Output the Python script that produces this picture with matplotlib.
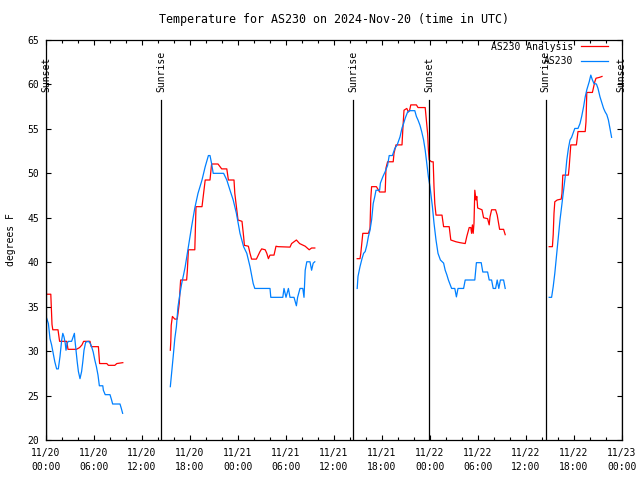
import numpy as np
import matplotlib
matplotlib.use("Agg")
import matplotlib.pyplot as plt

# hours since 2024-11-20 00:00 UTC, degrees F
analysis_day1 = [(0.08, 36.4), (0.6, 36.4), (0.75, 33.0), (0.85, 32.4), (1.5, 32.4), (1.7, 31.1),
                 (2.6, 31.1), (2.75, 30.2), (3.8, 30.2), (4.2, 30.4), (4.5, 30.7), (4.7, 31.1),
                 (5.5, 31.1), (5.65, 30.5), (6.55, 30.5), (6.7, 28.6), (7.6, 28.6), (7.8, 28.4),
                 (8.6, 28.4), (8.85, 28.6), (9.6, 28.7)]
analysis_day2 = [(15.54, 30.1), (15.6, 31.05), (15.65, 32.9), (15.8, 33.9), (16.1, 33.6), (16.4, 33.6),
                 (16.5, 34.25), (16.66, 35.4), (16.75, 36.9), (16.83, 38.0), (17.58, 38.0), (17.67, 39.1),
                 (17.8, 41.4), (18.6, 41.4), (18.75, 46.25), (19.5, 46.25), (19.7, 47.75), (19.9, 49.25),
                 (20.5, 49.25), (20.7, 51.05), (21.5, 51.05), (21.75, 50.75), (21.96, 50.5), (22.6, 50.5),
                 (22.8, 49.25), (23.5, 49.25), (23.6, 47.75), (23.8, 46.25), (24.0, 44.75), (24.5, 44.6),
                 (24.7, 42.9), (24.8, 41.9), (25.3, 41.8), (25.5, 41.0), (25.7, 40.35), (26.3, 40.35),
                 (26.75, 41.2), (26.96, 41.5), (27.4, 41.4), (27.6, 41.0), (27.8, 40.4), (28.0, 40.8),
                 (28.5, 40.8), (28.75, 41.8), (29.0, 41.75), (30.5, 41.7), (30.7, 42.1), (31.3, 42.5),
                 (31.7, 42.1), (32.4, 41.8), (32.9, 41.4), (33.2, 41.6), (33.6, 41.6)]
analysis_day3 = [(38.9, 40.4), (39.25, 40.4), (39.35, 41.0), (39.6, 43.25), (40.3, 43.25), (40.5, 43.8),
                 (40.6, 47.2), (40.7, 48.5), (41.3, 48.5), (41.7, 47.9), (42.4, 47.9), (42.5, 50.6),
                 (42.7, 51.3), (43.4, 51.3), (43.5, 52.25), (43.75, 53.2), (44.5, 53.2), (44.6, 54.9),
                 (44.75, 57.1), (45.1, 57.3), (45.3, 56.9), (45.45, 57.1), (45.6, 57.7), (46.3, 57.7),
                 (46.5, 57.4), (47.4, 57.4), (47.5, 56.4), (47.7, 54.5), (47.8, 52.6), (47.9, 51.5),
                 (48.2, 51.3), (48.4, 51.3), (48.5, 48.5), (48.6, 46.6), (48.75, 45.3), (49.5, 45.3),
                 (49.7, 44.0), (50.4, 44.0), (50.6, 42.5), (51.25, 42.3), (51.75, 42.2), (52.4, 42.1),
                 (52.6, 42.9), (52.9, 43.9), (53.1, 43.9), (53.2, 43.25), (53.3, 44.2), (53.4, 43.25),
                 (53.5, 44.4), (53.6, 48.1), (53.75, 47.0), (53.85, 47.4), (53.96, 46.1), (54.5, 45.9),
                 (54.7, 45.0), (55.2, 44.9), (55.4, 44.2), (55.5, 45.1), (55.7, 45.9), (56.2, 45.9),
                 (56.4, 45.3), (56.7, 43.7), (57.2, 43.7), (57.4, 43.1)]
analysis_day4 = [(62.9, 41.75), (63.3, 41.75), (63.4, 43.1), (63.5, 45.5), (63.6, 46.8), (63.9, 47.0),
                 (64.4, 47.1), (64.5, 47.75), (64.6, 49.8), (65.3, 49.8), (65.4, 50.75), (65.6, 53.2),
                 (66.3, 53.2), (66.5, 54.7), (67.4, 54.7), (67.5, 55.8), (67.6, 59.1), (68.3, 59.1),
                 (68.5, 59.9), (68.6, 60.3), (68.75, 60.7), (69.2, 60.8), (69.5, 60.9)]

station_day1 = [(0.08, 33.7), (0.3, 33.1), (0.5, 31.4), (0.7, 30.7), (0.9, 29.75), (1.1, 28.8),
                (1.33, 28.0), (1.54, 28.0), (1.75, 29.4), (1.96, 31.25), (2.1, 32.0), (2.25, 31.6),
                (2.4, 30.9), (2.5, 30.1), (2.65, 30.9), (2.8, 31.1), (3.2, 31.1), (3.4, 31.6),
                (3.55, 32.0), (3.6, 31.4), (3.75, 30.1), (3.9, 28.8), (4.05, 27.7), (4.25, 26.9),
                (4.45, 27.7), (4.6, 28.8), (4.75, 30.1), (4.96, 31.0), (5.3, 31.1), (5.5, 30.9),
                (5.7, 30.5), (5.9, 29.9), (6.1, 29.0), (6.3, 28.25), (6.5, 27.3), (6.67, 26.1),
                (7.1, 26.1), (7.17, 25.6), (7.4, 25.1), (8.0, 25.1), (8.2, 24.5), (8.33, 24.05),
                (9.25, 24.05), (9.4, 23.6), (9.58, 23.0)]
station_day2 = [(15.54, 26.0), (15.7, 27.5), (15.9, 29.4), (16.1, 31.4), (16.3, 32.75), (16.5, 35.0),
                (16.75, 36.5), (16.96, 37.6), (17.2, 38.6), (17.4, 39.5), (17.8, 41.75), (18.2, 44.0),
                (18.6, 46.1), (19.0, 47.75), (19.5, 49.25), (19.9, 50.75), (20.3, 52.0), (20.5, 52.0),
                (20.7, 51.1), (20.9, 50.0), (22.2, 50.0), (22.6, 49.25), (23.0, 48.1), (23.4, 47.0),
                (23.8, 45.5), (24.25, 43.25), (24.7, 41.75), (25.1, 41.0), (25.5, 39.5), (25.9, 37.6),
                (26.1, 37.05), (28.0, 37.05), (28.1, 36.05), (29.6, 36.05), (29.75, 37.05), (30.0, 36.05),
                (30.3, 37.05), (30.5, 36.05), (31.0, 36.05), (31.3, 35.1), (31.45, 36.05), (31.75, 37.05),
                (32.1, 37.05), (32.25, 36.05), (32.4, 39.1), (32.6, 40.05), (33.0, 40.05), (33.2, 39.1),
                (33.4, 39.9), (33.6, 40.05)]
station_day3 = [(38.9, 37.05), (39.0, 38.4), (39.25, 39.5), (39.5, 40.4), (39.7, 41.0), (39.9, 41.2),
                (40.1, 41.9), (40.3, 42.9), (40.5, 43.6), (40.7, 44.75), (40.9, 46.6), (41.1, 47.4),
                (41.25, 48.1), (41.7, 48.1), (41.8, 48.9), (42.1, 49.6), (42.4, 50.2), (42.7, 50.9),
                (42.9, 52.0), (43.3, 52.0), (43.6, 52.8), (43.9, 53.2), (44.25, 54.1), (44.5, 55.1),
                (44.7, 55.6), (44.9, 56.2), (45.2, 56.9), (45.5, 57.05), (46.1, 57.05), (46.3, 56.4),
                (46.5, 56.0), (46.75, 55.4), (46.96, 54.7), (47.2, 53.75), (47.4, 52.6), (47.6, 51.1),
                (47.8, 49.6), (48.0, 48.5), (48.3, 46.25), (48.5, 44.4), (48.75, 42.5), (49.0, 41.0),
                (49.3, 40.25), (49.7, 39.9), (49.9, 39.1), (50.1, 38.6), (50.3, 38.0), (50.7, 37.05),
                (51.1, 37.05), (51.3, 36.1), (51.5, 37.05), (52.2, 37.05), (52.4, 38.0), (53.6, 38.0),
                (53.8, 39.95), (54.4, 39.95), (54.6, 38.9), (55.2, 38.9), (55.4, 38.0), (55.7, 38.0),
                (55.9, 37.05), (56.2, 37.05), (56.4, 38.0), (56.6, 37.05), (56.8, 38.0), (57.2, 38.0),
                (57.4, 37.05)]
station_day4 = [(62.9, 36.05), (63.2, 36.05), (63.4, 37.25), (63.6, 38.75), (63.8, 40.6), (64.0, 42.5),
                (64.25, 44.75), (64.5, 46.6), (64.7, 48.1), (64.9, 49.6), (65.1, 51.5), (65.3, 52.8),
                (65.5, 53.75), (65.7, 54.05), (66.1, 55.05), (66.5, 55.05), (66.75, 55.6), (66.96, 56.4),
                (67.2, 57.5), (67.4, 58.6), (67.6, 59.4), (67.9, 60.3), (68.1, 61.05), (68.3, 60.5),
                (68.5, 60.1), (68.8, 60.05), (69.0, 59.55), (69.25, 58.6), (69.5, 57.9), (69.7, 57.3),
                (69.9, 56.9), (70.1, 56.6), (70.3, 56.0), (70.5, 55.05), (70.7, 54.05)]

sun_hours = [0.0, 14.42, 38.42, 47.92, 62.45, 71.95]
sun_names = ['Sunset', 'Sunrise', 'Sunrise', 'Sunset', 'Sunrise', 'Sunset']

tick_hours = list(range(0, 73, 6))
tick_labels = ['11/20\n00:00', '11/20\n06:00', '11/20\n12:00', '11/20\n18:00',
               '11/21\n00:00', '11/21\n06:00', '11/21\n12:00', '11/21\n18:00',
               '11/22\n00:00', '11/22\n06:00', '11/22\n12:00', '11/22\n18:00',
               '11/23\n00:00']


def join(segments):
    h, t = [], []
    for seg in segments:
        for a, b in seg:
            h.append(a)
            t.append(b)
        h.append(np.nan)
        t.append(np.nan)
    return h, t


plt.rcParams['font.family'] = 'DejaVu Sans Mono'
plt.rcParams['font.size'] = 7

fig = plt.figure(figsize=(6.4, 4.8), dpi=100)
ax = fig.add_axes([46 / 640, 40 / 480, 576 / 640, 400 / 480])

ah, at = join([analysis_day1, analysis_day2, analysis_day3, analysis_day4])
sh, st = join([station_day1, station_day2, station_day3, station_day4])
ax.plot(ah, at, color='#ff0000', lw=0.9, label='AS230 Analysis')
ax.plot(sh, st, color='#0080ff', lw=0.9, label='AS230')

for h, name in zip(sun_hours, sun_names):
    ax.axvline(h, ymin=0, ymax=(58.3 - 20) / 45, color='black', lw=0.9)
    ax.text(h, 59.1, name, rotation=90, ha='center', va='bottom')

ax.set_xlim(0, 72)
ax.set_ylim(20, 65)
ax.set_xticks(tick_hours)
ax.set_xticklabels(tick_labels, linespacing=1.45)
ax.set_xticks(range(0, 73, 2), minor=True)
ax.set_yticks(range(20, 66, 5))
ax.tick_params(direction='in', top=True, right=True, length=3.5, width=0.8)
ax.tick_params(axis='x', which='minor', direction='in', top=True, length=2.5, width=0.8)
ax.tick_params(axis='x', pad=6)
ax.tick_params(axis='y', pad=5)
for s in ax.spines.values():
    s.set_linewidth(0.9)

ax.set_ylabel('degrees F', labelpad=8)
ax.set_title('Temperature for AS230 on 2024-Nov-20 (time in UTC)', pad=12.5)
ax.legend(loc='upper right', frameon=False, markerfirst=False, handlelength=2.7,
          handletextpad=0.8, borderaxespad=0.2, labelspacing=0.45,
          bbox_to_anchor=(0.985, 1.01))

fig.savefig('out.png', dpi=100)
